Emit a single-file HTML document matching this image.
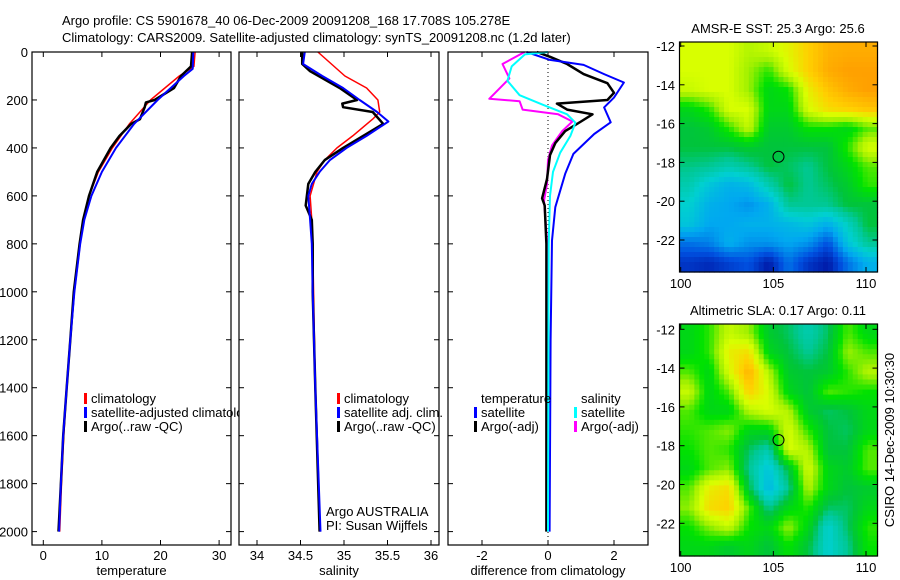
<!DOCTYPE html>
<html><head><meta charset="utf-8"><style>
html,body{margin:0;padding:0;background:#fff;}
svg{display:block;font-family:"Liberation Sans",sans-serif;}
text{font-size:13px;fill:#000;}
</style></head><body>
<svg id="fig" width="900" height="580" viewBox="0 0 900 580" xmlns="http://www.w3.org/2000/svg">
<text x="62" y="25">Argo profile: CS 5901678_40 06-Dec-2009 20091208_168 17.708S 105.278E</text>
<text x="62" y="42">Climatology: CARS2009. Satellite-adjusted climatology: synTS_20091208.nc (1.2d later)</text>
<g id="g1"></g>
<g id="g2"></g>
<g id="g3"></g>
<g id="m1"></g>
<g id="m2"></g>
<text transform="translate(894,440) rotate(-90)" text-anchor="middle">CSIRO 14-Dec-2009 10:30:30</text>
</svg>
<script>
// ---- profile data ----
const tempClimDepth=[0,60,100,200,300,400,500,600,700,800,1000,1200,1400,1600,1800,2000];
const tempClim=[25.9,25.7,23.2,18.3,14.7,11.8,9.4,7.8,6.9,6.3,5.3,4.6,4.0,3.5,3.1,2.8];
const tempSatDepth=[0,70,100,200,300,400,500,600,700,800,1000,1200,1400,1600,1800,2000];
const tempSat=[25.6,25.5,24.0,19.5,15.5,12.4,10.0,8.2,7.0,6.3,5.3,4.6,4.0,3.4,3.0,2.7];
const tempArgoDepth=[0,60,100,150,200,210,230,280,300,350,400,500,600,700,800,1000,1200,1400,1600,1800,2000];
const tempArgo=[25.4,25.2,23.5,22.3,19.0,17.5,17.3,16.5,15.0,13.0,11.5,9.2,7.8,6.8,6.2,5.2,4.6,4.0,3.4,3.0,2.6];

const salClimDepth=[0,100,150,200,250,280,350,400,450,500,600,700,800,1400,2000];
const salClim=[34.70,35.01,35.26,35.39,35.41,35.33,35.10,34.92,34.78,34.69,34.61,34.63,34.64,34.67,34.72];
const salSatDepth=[0,50,100,150,200,250,290,350,400,450,500,550,600,700,800,1000,1400,2000];
const salSat=[34.55,34.53,34.75,34.99,35.18,35.38,35.51,35.26,35.03,34.84,34.72,34.63,34.59,34.61,34.63,34.64,34.67,34.73];
const salArgoDepth=[0,50,80,150,200,215,230,250,300,350,400,450,500,550,640,700,800,1000,1400,2000];
const salArgo=[34.52,34.52,34.61,34.95,35.15,34.98,34.99,35.33,35.45,35.22,34.99,34.78,34.67,34.59,34.56,34.63,34.64,34.64,34.67,34.72];

const dTSatDepth=[0,33,54,92,127,190,231,293,342,425,508,647,786,1200,2000];
const dTSat=[-0.65,0.06,1.08,1.7,2.3,2.0,1.7,1.9,1.4,0.77,0.52,0.22,0.12,0.08,0.05];
const dTArgoDepth=[0,20,50,92,130,170,200,215,240,260,290,330,380,430,530,610,640,800,2000];
const dTArgo=[-0.34,0.06,0.58,1.08,1.8,2.0,1.8,0.27,0.58,1.35,1.0,0.52,0.22,0.06,-0.03,-0.18,-0.1,-0.05,-0.05];
const dSArgoDepth=[0,50,110,195,205,240,260,290,330,390,450,550,620,800,2000];
const dSArgo=[-0.71,-1.38,-1.17,-1.78,-0.86,-0.77,0.31,0.74,0.43,0.12,0.0,-0.03,-0.12,-0.02,0.0];
const dSSatDepth=[0,10,60,120,180,220,260,295,350,420,500,600,800,2000];
const dSSat=[0,-0.7,-1.1,-1.23,-0.86,-0.15,0.58,0.83,0.68,0.37,0.15,0.06,0.02,0.0];

const depthTicks=[0,200,400,600,800,1000,1200,1400,1600,1800,2000];
const tempTicks=[0,10,20,30];
const salTicks=[34,34.5,35,35.5,36];
const diffTicks=[-2,0,2];

// ---- map data (rows top->bottom, lat -12..-23; cols lon 100..110) ----
const sstGrid=[
[0.72,0.72,0.72,0.68,0.70,0.74,0.80,0.85,0.86,0.86],
[0.72,0.72,0.72,0.66,0.60,0.72,0.80,0.86,0.88,0.88],
[0.70,0.72,0.72,0.66,0.55,0.58,0.75,0.82,0.86,0.88],
[0.55,0.60,0.72,0.72,0.55,0.55,0.72,0.78,0.80,0.82],
[0.50,0.52,0.60,0.70,0.52,0.52,0.58,0.58,0.55,0.62],
[0.50,0.50,0.50,0.52,0.50,0.50,0.50,0.50,0.60,0.72],
[0.46,0.45,0.42,0.45,0.50,0.48,0.45,0.50,0.55,0.62],
[0.42,0.35,0.30,0.32,0.42,0.50,0.45,0.48,0.52,0.60],
[0.38,0.30,0.28,0.25,0.30,0.45,0.45,0.45,0.50,0.50],
[0.35,0.28,0.28,0.30,0.30,0.32,0.35,0.30,0.40,0.50],
[0.20,0.22,0.30,0.25,0.25,0.28,0.25,0.15,0.35,0.45],
[0.10,0.08,0.12,0.15,0.05,0.20,0.10,0.05,0.20,0.30]];
const slaGrid=[
[0.55,0.60,0.70,0.66,0.52,0.48,0.42,0.48,0.62,0.55],
[0.55,0.60,0.75,0.78,0.55,0.50,0.45,0.50,0.66,0.62],
[0.62,0.55,0.72,0.85,0.68,0.52,0.50,0.52,0.60,0.68],
[0.70,0.55,0.62,0.80,0.72,0.55,0.50,0.62,0.60,0.58],
[0.62,0.55,0.55,0.68,0.72,0.68,0.52,0.48,0.50,0.55],
[0.60,0.62,0.65,0.55,0.55,0.72,0.60,0.50,0.48,0.55],
[0.58,0.62,0.60,0.48,0.42,0.72,0.68,0.50,0.50,0.62],
[0.55,0.62,0.65,0.45,0.35,0.50,0.72,0.55,0.52,0.62],
[0.62,0.75,0.78,0.50,0.32,0.45,0.68,0.55,0.50,0.52],
[0.65,0.78,0.80,0.62,0.45,0.55,0.60,0.48,0.48,0.55],
[0.58,0.65,0.70,0.58,0.55,0.66,0.55,0.38,0.48,0.60],
[0.55,0.55,0.52,0.55,0.50,0.58,0.50,0.38,0.45,0.58]];
const lonTicks=[100,105,110];
const latTicks=[-12,-14,-16,-18,-20,-22];
const argoLon=105.278, argoLat=-17.708;

const NS='http://www.w3.org/2000/svg';
function mk(parent,tag,attrs){const e=document.createElementNS(NS,tag);for(const k in attrs)e.setAttribute(k,attrs[k]);parent.appendChild(e);return e;}
function txt(parent,x,y,s,anchor){const t=mk(parent,'text',{x:x,y:y,'text-anchor':anchor||'start'});t.textContent=s;return t;}

const PT=52,PB=545;
const yD=d=>52+d*0.2398;

function panel(g,x0,x1,xs,ticks,label,fmt,showY){
  const bg=mk(g,'rect',{x:x0,y:PT,width:x1-x0,height:PB-PT,fill:'#fff',stroke:'none'});
  
  
  const ax=mk(g,'g',{});
  
  
  ticks.forEach(v=>{const x=xs(v);
    mk(ax,'line',{x1:x,x2:x,y1:PT,y2:PT+5,stroke:'#000'});
    mk(ax,'line',{x1:x,x2:x,y1:PB,y2:PB-5,stroke:'#000'});
    const t=txt(ax,x,560,fmt(v),'middle');
    
    
  });
  depthTicks.forEach(d=>{const y=yD(d);
    mk(ax,'line',{x1:x0,x2:x0+5,y1:y,y2:y,stroke:'#000'});
    mk(ax,'line',{x1:x1,x2:x1-5,y1:y,y2:y,stroke:'#000'});
    if(showY){const t=txt(ax,28,y+5,String(d),'end');
      
      }
  });
  const xl=txt(g,(x0+x1)/2,575,label,'middle');
  
  
  return ax;
}
function series(g,depths,vals,xs,color,w,name){
  const pts=depths.map((d,i)=>xs(vals[i]).toFixed(1)+','+yD(d).toFixed(1)).join(' ');
  const p=mk(g,'polyline',{points:pts,fill:'none',stroke:color,'stroke-width':w,'stroke-linejoin':'round'});
  
  
}
function frame(g,x0,x1){const r=mk(g,'rect',{x:x0,y:PT,width:x1-x0,height:PB-PT,fill:'none',stroke:'#000','stroke-width':1.2});
  
  }
function legend(g,x,y,color,label){
  if(color){const b=mk(g,'rect',{x:x-7,y:y-10,width:3,height:11,fill:color});
    
    }
  const t=txt(g,x,y,label);
  
  
}

// Panel 1
const g1=document.getElementById('g1');
const xT=v=>43.3+v*5.86;
panel(g1,32,231,xT,tempTicks,'temperature',v=>String(v),true);
series(g1,tempClimDepth,tempClim,xT,'#f00',1.5,'temp-climatology-line');
series(g1,tempArgoDepth,tempArgo,xT,'#000',2.5,'temp-argo-line');
series(g1,tempSatDepth,tempSat,xT,'#00f',2,'temp-satellite-line');
frame(g1,32,231);
legend(g1,91,403,'#f00','climatology');
legend(g1,91,417,'#00f','satellite-adjusted climatology');
legend(g1,91,431,'#000','Argo(..raw -QC)');

// Panel 2
const g2=document.getElementById('g2');
const xS=v=>257+(v-34)*87;
panel(g2,239,439,xS,salTicks,'salinity',v=>String(v),false);
series(g2,salClimDepth,salClim,xS,'#f00',1.5,'sal-climatology-line');
series(g2,salArgoDepth,salArgo,xS,'#000',2.5,'sal-argo-line');
series(g2,salSatDepth,salSat,xS,'#00f',2,'sal-satellite-line');
frame(g2,239,439);
legend(g2,344,403,'#f00','climatology');
legend(g2,344,417,'#00f','satellite adj. clim.');
legend(g2,344,431,'#000','Argo(..raw -QC)');
const a1=txt(g2,326,516,'Argo AUSTRALIA');
const a2=txt(g2,326,530,'PI: Susan Wijffels');

// Panel 3
const g3=document.getElementById('g3');
const xDf=v=>548+v*33;
panel(g3,448,648,xDf,diffTicks,'difference from climatology',v=>String(v),false);
const zl=mk(g3,'line',{x1:548,x2:548,y1:PT,y2:PB,stroke:'#000','stroke-dasharray':'1,3'});

series(g3,dSArgoDepth,dSArgo,xDf,'#f0f',2,'sal-argo-diff-line');
series(g3,dTArgoDepth,dTArgo,xDf,'#000',2.5,'temp-argo-diff-line');
series(g3,dTSatDepth,dTSat,xDf,'#00f',2,'temp-satellite-diff-line');
series(g3,dSSatDepth,dSSat,xDf,'#0ff',2,'sal-satellite-diff-line');
frame(g3,448,648);
legend(g3,481,403,null,'temperature');
legend(g3,481,417,'#00f','satellite');
legend(g3,481,431,'#000','Argo(-adj)');
legend(g3,581,403,null,'salinity');
legend(g3,581,417,'#0ff','satellite');
legend(g3,581,431,'#f0f','Argo(-adj)');

// ---- maps ----
const cstops=[[0,[0,0,140]],[0.15,[0,80,224]],[0.28,[0,168,240]],[0.38,[0,208,208]],[0.45,[0,200,150]],[0.5,[0,196,60]],[0.58,[0,226,0]],[0.66,[160,240,0]],[0.72,[216,255,0]],[0.8,[255,208,0]],[0.88,[255,160,0]],[1,[224,96,0]]];
function cmap(v){v=Math.max(0,Math.min(1,v));for(let i=1;i<cstops.length;i++){if(v<=cstops[i][0]){const a=cstops[i-1],b=cstops[i],t=(v-a[0])/(b[0]-a[0]);return 'rgb('+a[1].map((c,k)=>Math.round(c+(b[1][k]-c)*t)).join(',')+')';}}return 'rgb(224,96,0)';}
function sample(G,fx,fy){const R=G.length,C=G[0].length;const gx=Math.max(0,Math.min(C-1,fx*C-0.5)),gy=Math.max(0,Math.min(R-1,fy*R-0.5));
  const x0=Math.floor(gx),y0=Math.floor(gy),x1=Math.min(C-1,x0+1),y1=Math.min(R-1,y0+1),tx=gx-x0,ty=gy-y0;
  return G[y0][x0]*(1-tx)*(1-ty)+G[y0][x1]*tx*(1-ty)+G[y1][x0]*(1-tx)*ty+G[y1][x1]*tx*ty;}
function drawMap(g,G,top,bottom,lat12y,title){
  const L=679.5,Rr=877.5;
  const lonX=lon=>680.7+(lon-100)*18.53;
  const latY=lat=>lat12y+(-12-lat)*19.4;
  const t=txt(g,778,top-9,title,'middle');
  const cells=mk(g,'g',{});
  const NX=40,NY=46,w=(Rr-L)/NX,h=(bottom-top)/NY;
  for(let j=0;j<NY;j++)for(let i=0;i<NX;i++){
    mk(cells,'rect',{x:(L+i*w).toFixed(2),y:(top+j*h).toFixed(2),width:(w+0.6).toFixed(2),height:(h+0.6).toFixed(2),fill:cmap(sample(G,(i+0.5)/NX,(j+0.5)/NY))});
  }
  const ax=mk(g,'g',{});
  mk(ax,'rect',{x:L,y:top,width:Rr-L,height:bottom-top,fill:'none',stroke:'#000','stroke-width':1.2});
  lonTicks.forEach(v=>{const x=lonX(v);mk(ax,'line',{x1:x,x2:x,y1:top,y2:top+5,stroke:'#000'});mk(ax,'line',{x1:x,x2:x,y1:bottom,y2:bottom-5,stroke:'#000'});
    const tl=txt(ax,x,bottom+16,String(v),'middle');});
  latTicks.forEach(v=>{const y=latY(v);mk(ax,'line',{x1:L,x2:L+5,y1:y,y2:y,stroke:'#000'});mk(ax,'line',{x1:Rr,x2:Rr-5,y1:y,y2:y,stroke:'#000'});
    const tl=txt(ax,675,y+5,String(v),'end');});
  const c=mk(g,'circle',{cx:lonX(argoLon),cy:latY(argoLat),r:5.5,fill:'none',stroke:'#000','stroke-width':1});
  
}
drawMap(document.getElementById('m1'),sstGrid,42,272,46,'AMSR-E SST: 25.3 Argo: 25.6');
drawMap(document.getElementById('m2'),slaGrid,324,556,329.3,'Altimetric SLA: 0.17 Argo: 0.11');
</script>
</body></html>
